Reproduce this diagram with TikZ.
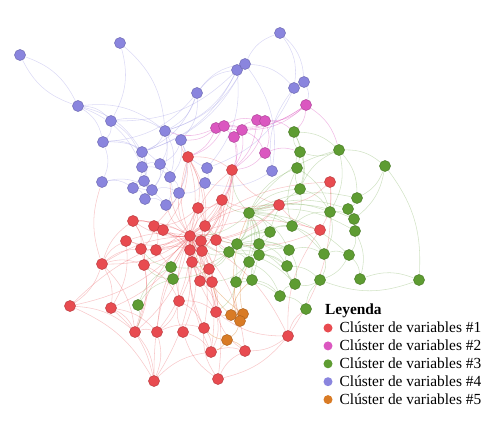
\documentclass[tikz,border=0pt]{standalone}
\usepackage{fontspec}
\setmainfont{Liberation Serif}
\pgfdeclarelayer{bg}
\pgfsetlayers{bg,main}
\definecolor{cr}{HTML}{E84B50}
\definecolor{cp}{HTML}{DB57C0}
\definecolor{cg}{HTML}{5E9C32}
\definecolor{cb}{HTML}{8A85DE}
\definecolor{co}{HTML}{D97B25}
\tikzset{
  nd/.style={circle,inner sep=0pt,minimum size=11pt,line width=0.5pt},
  rn/.style={nd,fill=cr,draw=cr!80!black},
  pn/.style={nd,fill=cp,draw=cp!80!black},
  gn/.style={nd,fill=cg,draw=cg!80!black},
  bn/.style={nd,fill=cb,draw=cb!80!black},
  on/.style={nd,fill=co,draw=co!80!black},
  ed/.style={line width=0.55pt,opacity=0.3},
  re/.style={ed,draw=cr},
  pe/.style={ed,draw=cp,opacity=0.4},
  ge/.style={ed,draw=cg,opacity=0.28},
  be/.style={ed,draw=cb,opacity=0.3},
  oe/.style={ed,draw=co,opacity=0.4},
  lgdot/.style={circle,inner sep=0pt,minimum size=9pt},
  lgtxt/.style={anchor=base west,font=\fontsize{15.4pt}{18pt}\selectfont,inner sep=0pt}
}
\begin{document}
\begin{tikzpicture}[x=1pt,y=-1pt]
\useasboundingbox (0,0) rectangle (497,422);
% nodes
\foreach \n/\x/\y in {b1/20/55,b2/120/43,b3/78/106,b4/111/121,b5/103/142,b6/102/182,b7/197/93,b8/237/70,b9/245/64,b10/280/33,b11/294/88,b12/304/82,b13/165/131,b14/181/140,b15/142/152,b16/142/167,b17/160/164,b18/144/181,b19/133/188,b20/152/190,b21/170/177,b22/179/193,b23/145/199,b24/166/205,b25/207/168,b26/205/183,b27/272/171}
  \node[bn] (\n) at (\x,\y) {};
\foreach \n/\x/\y in {p1/216/128,p2/224/126,p3/242/130,p4/234/137,p5/257/120,p6/265/121,p7/265/153,p8/306/105}
  \node[pn] (\n) at (\x,\y) {};
\foreach \n/\x/\y in {g1/294/132,g2/300/152,g3/339/150,g4/385/166,g5/297/168,g6/300/189,g7/357/198,g8/348/209,g9/330/212,g10/354/219,g11/355/231,g12/292/226,g13/270/232,g14/249/213,g15/237/244,g16/229/252,g17/259/244,g18/259/255,g19/249/262,g20/289/250,g21/324/254,g22/349/255,g23/287/266,g24/236/282,g25/252/280,g26/295/284,g27/320/280,g28/360/279,g29/419/280,g30/280/296,g31/306/309,g32/171/267,g33/173/279,g34/138/305}
  \node[gn] (\n) at (\x,\y) {};
\foreach \n/\x/\y in {r1/188/157,r2/232/170,r3/330/182,r4/222/200,r5/198/208,r6/279/205,r7/320/230,r8/133/221,r9/154/226,r10/163/230,r11/205/226,r12/190/236,r13/201/241,r14/216/240,r15/126/241,r16/141/249,r17/156/250,r18/190/250,r19/202/251,r20/102/264,r21/144/265,r22/192/262,r23/209/269,r24/200/281,r25/212/282,r26/70/306,r27/111/308,r28/179/301,r29/216/312,r30/135/332,r31/157/332,r32/183/332,r33/204/328,r34/288/336,r35/211/352,r36/245/351,r37/154/381,r38/218/379}
  \node[rn] (\n) at (\x,\y) {};
\foreach \n/\x/\y in {o1/231/315,o2/243/314,o3/240/321,o4/227/340}
  \node[on] (\n) at (\x,\y) {};
% edges
\begin{pgfonlayer}{bg}
\foreach \a/\b in {r12/r1,r12/r2,r12/r4,r12/r5,r12/r8,r12/r9,r12/r10,r12/r11,r12/r13,r12/r14,r12/r15,r12/r16,r12/r17,r12/r18,r12/r19,r12/r20,r12/r21,r12/r22,r12/r23,r12/r24,r12/r25,r12/r28,r12/r29,r12/r30,r12/r31,r12/r32,r12/r33,r12/r35,r12/r36,r12/r26,r12/r27,r12/r6,r12/r3,r12/r7,r12/g15,r12/g16,r12/b22,r12/b24,r12/b21,r12/r37,r12/r38,r12/r34,
  r20/r26,r20/r27,r20/r8,r20/r15,r26/r30,r27/r30,r30/r37,r31/r37,r37/r35,r38/r32,r38/r36,r38/r33,r35/r36,r34/r36,r34/r29,r34/r7,r34/g31,r28/r29,r28/r31,r29/r35,r33/r35,r24/r29,r25/r29,r1/r5,r1/r2,r2/r4,r4/r5,r5/r11,r11/r14,r13/r19,r22/r23,r16/r21,r21/r30,r9/r10,r8/r9,r15/r16,r17/r18,r6/r4,r6/r2,r3/r7,r3/r6,r7/r6,r1/b14,r20/b6,r4/r14,r18/r22,r24/r25,r23/r25,r19/r14,r26/r37,r27/r31,r32/r28,r36/r29,r20/r30,r27/r37,r34/r38,r5/r13,r1/r11,r2/r14,r10/r18,r9/r17,r8/r16,r20/r21,r31/r33,r32/r35,r30/r31,r1/r10,r4/r19,r22/r24,r3/r34,r7/r14,r6/r14,r28/r33,
  r1/r13,r1/r9,r2/r11,r2/r13,r4/r13,r4/r18,r5/r9,r5/r17,r8/r21,r10/r22,r11/r22,r14/r23,r13/r25,r19/r24,r17/r28,r21/r28,r22/r29,r16/r30,r15/r27,r20/r16,r8/r10,r9/r16,r6/r13,r2/r19}
  \draw[re] (\a) to[bend left=18] (\b);
\foreach \a/\b in {r12/r1,r12/r4,r12/r8,r12/r20,r12/r30,r12/r29,r12/r33,r12/r2,r12/r15,r12/r26,r12/r28,r12/r35,r12/r24,r12/r9,r12/r5,r12/r37,r12/r31}
  \draw[re] (\a) to[bend right=14] (\b);
\foreach \a/\b in {g14/g15,g14/g16,g14/g17,g14/g18,g14/g19,g14/g13,g14/g12,g14/g5,g14/g6,g14/g20,g14/g24,g14/g25,g14/r12,g14/r4,g14/r6,g16/g15,g16/g19,g16/g17,g16/g24,g16/g32,g16/g33,g16/r13,g16/r19,g17/g18,g17/g20,g18/g19,g13/g12,g12/g9,g12/g5,g5/g2,g2/g1,g1/g3,g3/g4,g4/g7,g4/g10,g3/g7,g7/g8,g8/g10,g10/g11,g9/g21,g21/g22,g22/g28,g28/g29,g29/g27,g27/g26,g26/g23,g23/g20,g30/g26,g30/g31,g31/g27,g24/g25,g25/g30,g19/g25,g34/g33,g34/g32,g33/g32,g6/g9,g6/g12,g11/g22,g20/g21,g23/g27,g13/g17,g6/g5,g1/g5,g11/g28,g3/g2,g15/g18,g32/r16,g33/r21,g34/r30,g15/g20,g16/g23,g15/g26,g14/g9,g14/g3,g19/g30,g18/g23,g12/g21,g4/g29,g3/g9,g1/g6,g17/g13,g15/g25,g16/r14,g14/r2,g24/r29,
  g14/g21,g14/g22,g14/g7,g14/g10,g14/g8,g14/g11,g16/g20,g16/g13,g16/g12,g16/g26,g15/g13,g17/g23,g18/g20,g13/g6,g20/g26,g24/g30,g21/g27,g22/g27,g9/g10,g8/g11,g6/g3,g5/g9,g2/g6,g15/r11,g16/r23,g19/r25}
  \draw[ge] (\a) to[bend left=20] (\b);
\foreach \a/\b in {b1/b3,b3/b1,b2/b13,b2/b4,b3/b4,b3/b5,b3/b13,b4/b5,b4/b13,b5/b15,b5/b6,b6/b19,b7/b8,b7/b13,b8/b9,b9/b10,b10/b11,b10/b12,b9/b11,b11/b12,b8/b13,b7/b14,b13/b14,b13/b15,b15/b16,b16/b17,b17/b21,b18/b19,b18/b20,b19/b23,b20/b22,b21/b22,b22/b24,b23/b24,b16/b18,b14/b21,b25/b26,b25/b14,b26/b22,b27/b11,b27/b26,b9/b27,b3/b16,b7/b9,b12/p8,b8/b4,b9/b15,b7/b5,b4/b16,b5/b17,b13/b17,b15/b19,b14/b17,b8/b25,b11/b25,b6/b20,b16/b23,b21/b24,
  b13/b21,b13/b20,b14/b22,b15/b18,b17/b20,b19/b24,b18/b23,b16/b21,b3/b15,b7/b15,b8/b15,b9/b13}
  \draw[be] (\a) to[bend left=22] (\b);
\foreach \a/\b in {p1/p2,p1/p4,p2/p3,p3/p4,p4/p5,p5/p6,p6/p7,p8/p6,p8/p3,p1/r1,p4/r2,p7/r2,p5/r2,p8/g1,p8/g3,p7/g2,p3/p7,p2/p5,p1/b13,p6/g1,p8/p2,p1/b14,p3/r2,p8/p1,p2/r1,p4/r4,p6/r2}
  \draw[pe] (\a) to[bend left=20] (\b);
\foreach \a/\b in {o1/o2,o2/o3,o1/o3,o3/o4,o4/r35,o1/r29,o2/r12,o3/g24,o4/r36,o1/g25,o2/g19,o4/r33,o1/r25,o3/g14}
  \draw[oe] (\a) to[bend left=18] (\b);
\end{pgfonlayer}
% legend
\node[lgtxt,font=\fontsize{15.4pt}{18pt}\selectfont\bfseries] (lgt) at (325,314) {Leyenda};
\foreach \i/\c/\t in {1/cr/1,2/cp/2,3/cg/3,4/cb/4,5/co/5}{
  \node[lgdot,fill=\c] (ld\i) at (328,328+17.9*\i-17.9) {};
  \node[lgtxt] (lt\i) at (339.5,332.7+17.9*\i-17.9) {Clúster de variables \#\t};
}
\end{tikzpicture}
\end{document}
